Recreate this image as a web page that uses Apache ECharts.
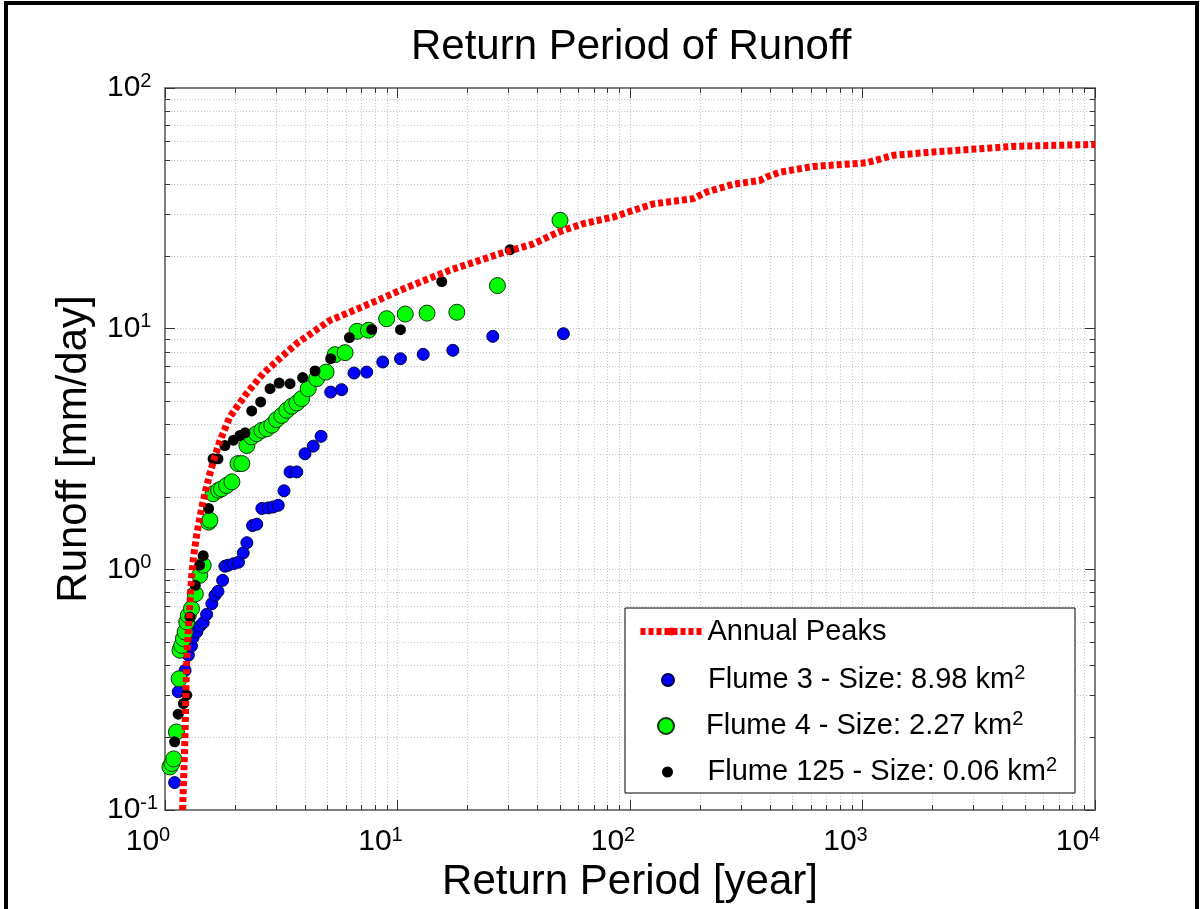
<!DOCTYPE html>
<html>
<head>
<meta charset="utf-8">
<title>Return Period of Runoff</title>
<script src="https://cdn.jsdelivr.net/npm/echarts@6/dist/echarts.min.js"></script>
<style>
	html, body { margin: 0; padding: 0; background: #fff; }
	#container { width: 1204px; height: 909px; }
</style>
</head>
<body>
<div id="container"></div>
<script>
// annual peaks curve: return period [year] / runoff [mm/day]
var peakT = [1.19, 1.21, 1.22, 1.23, 1.24, 1.26, 1.28, 1.30, 1.33, 1.37, 1.44, 1.50, 1.56, 1.64, 1.72, 1.90, 2.25, 2.64, 3.20, 3.70, 5.10, 8.20, 10.2, 16.8, 27.6, 38.4, 49.2, 63, 85, 103, 126, 187, 214, 278, 362, 387, 442, 614, 1042, 1358, 2017, 4454, 10000];
var peakQ = [0.10, 0.16, 0.21, 0.31, 0.42, 0.56, 0.72, 0.92, 1.15, 1.40, 1.81, 2.15, 2.50, 2.95, 3.40, 4.30, 5.40, 6.50, 7.70, 8.70, 10.8, 13.1, 14.4, 17.5, 20.5, 22.5, 25.2, 27.3, 29.1, 31.0, 33.0, 34.7, 37.0, 39.8, 41.3, 42.7, 44.7, 47.2, 48.9, 52.5, 54.2, 57.2, 58.3];

// Flume 3
var flume3T = [1.10, 1.14, 1.22, 1.26, 1.30, 1.32, 1.37, 1.41, 1.46, 1.51, 1.59, 1.64, 1.69, 1.77, 1.81, 1.87, 1.97, 2.07, 2.17, 2.25, 2.38, 2.48, 2.61, 2.78, 2.92, 3.07, 3.25, 3.45, 3.69, 4.00, 4.34, 4.69, 5.16, 5.75, 6.50, 7.37, 8.64, 10.3, 12.9, 17.3, 25.7, 51.7];
var flume3Q = [0.13, 0.31, 0.38, 0.44, 0.48, 0.52, 0.55, 0.58, 0.60, 0.65, 0.72, 0.78, 0.81, 0.90, 1.03, 1.04, 1.055, 1.07, 1.17, 1.29, 1.52, 1.54, 1.79, 1.80, 1.815, 1.845, 2.12, 2.54, 2.54, 3.02, 3.25, 3.57, 5.45, 5.58, 6.54, 6.60, 7.27, 7.50, 7.82, 8.13, 9.29, 9.53];

// Flume 4
var flume4T = [1.05, 1.07, 1.09, 1.12, 1.15, 1.16, 1.18, 1.20, 1.22, 1.24, 1.26, 1.30, 1.35, 1.41, 1.46, 1.54, 1.56, 1.61, 1.70, 1.75, 1.84, 1.94, 2.06, 2.14, 2.25, 2.36, 2.48, 2.61, 2.74, 2.88, 3.02, 3.18, 3.34, 3.51, 3.69, 3.87, 4.13, 4.49, 4.93, 5.39, 5.95, 6.70, 7.50, 8.98, 10.8, 13.4, 18.0, 26.9, 50.0];
var flume4Q = [0.151, 0.156, 0.163, 0.211, 0.351, 0.461, 0.483, 0.515, 0.549, 0.604, 0.644, 0.687, 0.79, 0.944, 1.04, 1.57, 1.60, 2.06, 2.13, 2.16, 2.23, 2.31, 2.75, 2.75, 3.27, 3.55, 3.66, 3.78, 3.84, 3.97, 4.19, 4.36, 4.58, 4.76, 4.91, 5.12, 5.63, 6.20, 6.60, 7.80, 7.95, 9.75, 9.85, 11.0, 11.5, 11.6, 11.7, 15.1, 28.2];

// Flume 125
var flume125T = [1.10, 1.14, 1.20, 1.24, 1.28, 1.35, 1.41, 1.46, 1.54, 1.61, 1.69, 1.81, 1.97, 2.10, 2.21, 2.36, 2.58, 2.83, 3.10, 3.45, 3.91, 4.42, 5.16, 6.21, 7.75, 10.3, 15.5, 30.5];
var flume125Q = [0.192, 0.25, 0.277, 0.30, 0.634, 0.858, 1.04, 1.14, 1.79, 2.88, 2.88, 3.27, 3.44, 3.60, 3.69, 4.55, 4.96, 5.63, 5.94, 5.91, 6.26, 6.67, 7.50, 9.18, 9.93, 9.90, 15.7, 21.3];

// minor tick / grid positions
var xMinor = [2, 3, 4, 5, 6, 7, 8, 9, 20, 30, 40, 50, 60, 70, 80, 90, 200, 300, 400, 500, 600, 700, 800, 900, 2000, 3000, 4000, 5000, 6000, 7000, 8000, 9000];
var yMinor = [0.2, 0.3, 0.4, 0.5, 0.6, 0.7, 0.8, 0.9, 2, 3, 4, 5, 6, 7, 8, 9, 20, 30, 40, 50, 60, 70, 80, 90];

var seriesNames = ['Annual Peaks', 'Flume 3 - Size: 8.98 km', 'Flume 4 - Size: 2.27 km', 'Flume 125 - Size: 0.06 km'];

var FONT = '"Liberation Sans", Arial, sans-serif';

function zip(a, b) {
	var out = [];
	for (var i = 0; i < a.length; i++) {
		out.push([a[i], b[i]]);
	}
	return out;
}

function powLabel(v) {
	var e = Math.round(Math.log(v) / Math.LN10);
	return '{b|10}{s|' + e + '}';
}

var labelRich = {
	b: { fontSize: 30, lineHeight: 34, fontFamily: FONT, color: '#000' },
	s: { fontSize: 20, lineHeight: 16, fontFamily: FONT, color: '#000', verticalAlign: 'top' }
};

var legendRich = {
	n: { fontSize: 29, lineHeight: 34, fontFamily: FONT, color: '#000' },
	s: { fontSize: 20, lineHeight: 20, fontFamily: FONT, color: '#000', verticalAlign: 'top' }
};

function legendFmt(name) {
	if (name === 'Annual Peaks') return '{n|' + name + '}';
	return '{n|' + name + '}{s|2}';
}

var gridLine = { show: true, lineStyle: { color: '#c4c4c4', width: 1, type: [1, 2] } };
var axisCol = '#7f7f7f';

function mainX(pos, labels) {
	return {
		type: 'log', logBase: 10, min: 1, max: 10000, gridIndex: 0, position: pos,
		axisLine: { show: true, lineStyle: { color: axisCol, width: 2 } },
		axisTick: { show: true, inside: true, length: 10, lineStyle: { color: '#333' } },
		axisLabel: { show: labels, formatter: powLabel, rich: labelRich, margin: 15, padding: [0, 34, 0, 0] },
		splitLine: labels ? gridLine : { show: false },
		name: labels ? 'Return Period [year]' : '',
		nameLocation: 'middle', nameGap: 44,
		nameTextStyle: { fontSize: 42, fontFamily: FONT, color: '#000' }
	};
}

function mainY(pos, labels) {
	return {
		type: 'log', logBase: 10, min: 0.1, max: 100, gridIndex: 0, position: pos,
		axisLine: { show: true, lineStyle: { color: axisCol, width: 2 } },
		axisTick: { show: true, inside: true, length: 10, lineStyle: { color: '#333' } },
		axisLabel: { show: labels, formatter: powLabel, rich: labelRich, margin: 58, align: 'left' },
		splitLine: labels ? gridLine : { show: false },
		name: labels ? 'Runoff [mm/day]' : '',
		nameLocation: 'middle', nameGap: 70,
		nameTextStyle: { fontSize: 42, fontFamily: FONT, color: '#000' }
	};
}

function minorX(pos, grid) {
	return {
		type: 'log', logBase: 10, min: 1, max: 10000, gridIndex: 1, position: pos,
		axisLine: { show: false },
		axisTick: { show: true, inside: true, length: 5, customValues: xMinor, lineStyle: { color: '#333' } },
		axisLabel: { show: false },
		splitLine: grid ? gridLine : { show: false }
	};
}

function minorY(pos, grid) {
	return {
		type: 'log', logBase: 10, min: 0.1, max: 100, gridIndex: 1, position: pos,
		axisLine: { show: false },
		axisTick: { show: true, inside: true, length: 5, customValues: yMinor, lineStyle: { color: '#333' } },
		axisLabel: { show: false },
		splitLine: grid ? gridLine : { show: false }
	};
}

// one legend per marker so each icon keeps its own size
function dotLegend(name, left, top, size) {
	return {
		data: [name], left: left, top: top, padding: 0, z: 10,
		itemWidth: 70, itemHeight: size, selectedMode: false,
		formatter: legendFmt, textStyle: { rich: legendRich }
	};
}

var dom = document.getElementById('container');
var myChart = echarts.init(dom);

var option = {
	animation: false,
	backgroundColor: '#fff',
	title: {
		text: 'Return Period of Runoff',
		left: 406, top: 21,
		textStyle: { fontSize: 42, fontWeight: 'normal', fontFamily: FONT, color: '#000' }
	},
	grid: [
		{ left: 165, right: 109, top: 88, bottom: 99 },
		{ left: 165, right: 109, top: 88, bottom: 99 }
	],
	xAxis: [mainX('bottom', true), mainX('top', false), minorX('bottom', true), minorX('top', false)],
	yAxis: [mainY('left', true), mainY('right', false), minorY('left', true), minorY('right', false)],
	legend: [
		{
			data: [seriesNames[0]], left: 637, top: 617, padding: 0, z: 10,
			itemWidth: 62, itemHeight: 10, selectedMode: false,
			lineStyle: { width: 7 },
			formatter: legendFmt, textStyle: { rich: legendRich }
		},
		dotLegend(seriesNames[1], 661, 663, 12),
		dotLegend(seriesNames[2], 657, 709, 16),
		dotLegend(seriesNames[3], 662, 755, 11)
	],
	graphic: [
		{
			type: 'rect', z: 5, silent: true,
			shape: { x: 625, y: 608, width: 450, height: 185 },
			style: { fill: '#fff', stroke: '#000', lineWidth: 1 }
		},
		{
			type: 'rect', z: 100, silent: true,
			shape: { x: 6, y: 3, width: 1191, height: 950 },
			style: { fill: 'none', stroke: '#000', lineWidth: 4 }
		}
	],
	series: [
		{
			name: seriesNames[0], type: 'line', xAxisIndex: 0, yAxisIndex: 0,
			data: zip(peakT, peakQ), symbol: 'none',
			lineStyle: { color: '#ff0000', width: 7, type: [5, 3] },
			itemStyle: { color: '#ff0000' }
		},
		{
			name: seriesNames[1], type: 'scatter', xAxisIndex: 0, yAxisIndex: 0,
			data: zip(flume3T, flume3Q), symbolSize: 12,
			itemStyle: { color: '#0000ff', borderColor: '#000040', borderWidth: 1, opacity: 1 }
		},
		{
			name: seriesNames[2], type: 'scatter', xAxisIndex: 0, yAxisIndex: 0,
			data: zip(flume4T, flume4Q), symbolSize: 16,
			itemStyle: { color: '#00ff00', borderColor: '#103010', borderWidth: 1, opacity: 1 }
		},
		{
			name: seriesNames[3], type: 'scatter', xAxisIndex: 0, yAxisIndex: 0,
			data: zip(flume125T, flume125Q), symbolSize: 11,
			itemStyle: { color: '#000000', opacity: 1 }
		}
	]
};

if (option && typeof option === 'object') {
	myChart.setOption(option, true);
}
</script>
</body>
</html>
